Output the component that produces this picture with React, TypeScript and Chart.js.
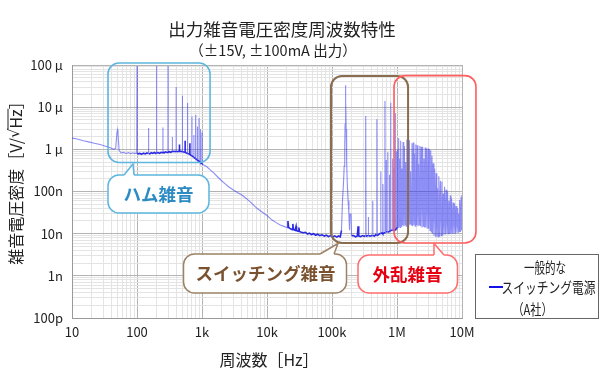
import React, { useEffect, useRef } from 'react';
import { Chart, registerables } from 'chart.js';

Chart.register(...registerables);

// ---- axis ticks ----
const xTickValues = [10, 100, 1e3, 1e4, 1e5, 1e6, 1e7];
const xTickLabels = ['10', '100', '1k', '10k', '100k', '1M', '10M'];
const yTickValues = [1e-10, 1e-9, 1e-8, 1e-7, 1e-6, 1e-5, 1e-4];
const yTickLabels = ['100p', '1n', '10n', '100n', '1 μ', '10 μ', '100 μ'];

// ---- data: [frequency Hz, noise density nV/√Hz] ----
const humNoise: [number, number][] = [
  [10, 1850], [12, 1750], [15, 1600], [18, 1500], [22, 1400], [27, 1300], [32, 1200], [38, 1100],
  [44, 1000], [47, 1050], [49, 2400], [50, 2900], [51, 2400], [53, 950], [57, 820], [62, 850],
  [68, 800], [74, 840], [80, 790], [86, 830], [92, 800], [97, 820], [99, 800], [100, 95000],
  [101, 800], [104, 780], [110, 800], [118, 770], [126, 810], [134, 780], [142, 820], [148, 800],
  [150, 3200], [152, 800], [158, 780], [166, 830], [175, 800], [185, 840], [195, 800], [199, 820],
  [200, 95000], [201, 820], [210, 840], [222, 800], [235, 850], [245, 830], [249, 850], [250, 3300],
  [251, 850], [262, 830], [275, 870], [290, 840], [299, 860], [300, 95000], [301, 860], [315, 880],
  [330, 850], [345, 890], [349, 870], [350, 1950], [351, 870], [370, 900], [390, 880], [399, 900],
  [400, 30000], [401, 900], [420, 880], [440, 910], [449, 890], [450, 1300], [451, 890], [475, 900],
  [499, 880], [500, 18600], [501, 880], [525, 860], [549, 850], [550, 1600], [551, 850], [575, 820],
  [599, 800], [600, 12500], [601, 800], [625, 780], [649, 760], [650, 1400], [651, 760], [675, 720],
  [699, 700], [700, 6000], [701, 700], [725, 670], [749, 650], [750, 2200], [751, 640], [775, 620],
  [799, 600], [800, 6500], [801, 600], [825, 570], [849, 560], [850, 3500], [851, 555], [875, 540],
  [899, 520], [900, 5500], [901, 520], [925, 500], [949, 490], [950, 3000], [951, 485], [975, 470],
  [999, 460], [1000, 2500], [1001, 455],
];

const slopeNoise: [number, number][] = [
  [1050, 430], [1100, 415], [1200, 380], [1350, 320], [1500, 280], [1700, 230], [2000, 180],
  [2300, 150], [2600, 128], [3000, 110], [3500, 95], [4000, 85], [4600, 72], [5300, 60],
  [6000, 50], [7000, 40], [8300, 33], [10000, 27], [12000, 21], [14000, 18], [16000, 16],
  [19000, 14.5],
];

const switchingNoise: [number, number][] = [
  [20500, 14], [21000, 20], [21500, 14], [23000, 13], [24500, 12.5], [25000, 17], [25500, 12.5],
  [27000, 12], [28000, 15], [28500, 11.8], [30000, 11.5], [31000, 14], [31500, 11.3], [33000, 11],
  [36000, 10.5], [39000, 10.8], [42000, 9.8], [45000, 10.3], [48000, 9.5], [52000, 10], [56000, 9.2],
  [60000, 9.7], [65000, 9], [70000, 9.4], [76000, 8.8], [82000, 9.2], [88000, 8.5], [95000, 9],
  [102000, 8.4], [110000, 8.9], [118000, 8.3], [126000, 8.8], [134000, 8.4], [140000, 12],
  [145000, 60], [150000, 150], [154000, 400], [157000, 1200], [159000, 4000], [161000, 15000],
  [162000, 33000], [163000, 15000], [165000, 3000], [168000, 500], [172000, 150], [177000, 60],
  [182000, 30], [186000, 12], [190000, 30], [196000, 30], [200000, 9], [215000, 9], [230000, 8.4],
  [245000, 8.8], [252000, 15], [258000, 8.8], [275000, 8.5], [295000, 9], [315000, 8.6],
  [326000, 9], [330000, 6200], [334000, 9], [345000, 8.8], [358000, 9], [362000, 25], [366000, 9],
  [385000, 8.7], [405000, 9], [418000, 8.8], [422000, 60], [426000, 9], [450000, 8.8],
  [470000, 9.5], [486000, 9], [490000, 5200], [494000, 9], [520000, 9.5], [545000, 10],
  [558000, 10], [562000, 300], [566000, 10], [590000, 10.5], [603000, 10], [607000, 150],
  [611000, 10], [640000, 10.5], [650000, 11], [653000, 14000], [656000, 11], [676000, 11],
  [680000, 560], [684000, 11], [715000, 11], [720000, 850], [725000, 11], [760000, 11],
  [765000, 250], [770000, 11], [795000, 12], [800000, 12700], [805000, 12], [850000, 12],
  [855000, 600], [860000, 12], [890000, 12], [895000, 350], [900000, 12], [935000, 12],
  [940000, 7200], [945000, 12], [970000, 13], [975000, 900], [980000, 13],
];

const disturbanceNoise: [number, number][] = [
  [1000000, 14], [1020000, 1000], [1040000, 14], [1060000, 1850], [1080000, 15], [1100000, 600],
  [1120000, 14], [1140000, 1600], [1165000, 15], [1190000, 350], [1215000, 16], [1240000, 1500],
  [1270000, 15], [1300000, 1200], [1330000, 16], [1360000, 500], [1390000, 15], [1420000, 1700],
  [1450000, 16], [1480000, 1100], [1515000, 15], [1550000, 1650], [1585000, 17], [1620000, 300],
  [1660000, 16], [1700000, 1400], [1740000, 15], [1780000, 1450], [1820000, 16], [1860000, 800],
  [1900000, 15], [1950000, 1300], [2000000, 16], [2050000, 1250], [2100000, 15], [2150000, 450],
  [2200000, 16], [2250000, 1200], [2300000, 15], [2360000, 1150], [2420000, 14], [2480000, 1150],
  [2540000, 15], [2600000, 600], [2660000, 14], [2720000, 1100], [2780000, 14], [2850000, 1050],
  [2920000, 13], [3000000, 1050], [3070000, 13], [3150000, 1000], [3220000, 12], [3300000, 950],
  [3370000, 11], [3450000, 700], [3520000, 10], [3600000, 470], [3700000, 9], [3800000, 350],
  [3900000, 8.5], [4000000, 270], [4100000, 8.5], [4200000, 120], [4300000, 8.5], [4400000, 230],
  [4520000, 8.5], [4650000, 180], [4780000, 9], [4900000, 170], [5020000, 9], [5150000, 90],
  [5280000, 9.5], [5400000, 130], [5550000, 9.5], [5700000, 110], [5850000, 10], [6000000, 100],
  [6150000, 10], [6300000, 60], [6450000, 10], [6600000, 80], [6750000, 10], [6900000, 68],
  [7100000, 10], [7300000, 55], [7500000, 10], [7700000, 52], [7900000, 10], [8100000, 45],
  [8350000, 10.5], [8600000, 40], [8800000, 10.5], [9000000, 30], [9150000, 11], [9300000, 63],
  [9500000, 11], [9700000, 75], [9850000, 12], [10000000, 83],
];

const FONT = '"Noto Sans CJK JP", "Noto Sans", sans-serif';
const LIGHT = 'rgba(50,50,240,0.55)';
const DARK = 'rgba(20,20,225,0.9)';

function logTicks(minExp: number, maxExp: number): number[] {
  const out: number[] = [];
  for (let e = minExp; e < maxExp; e++) for (let m = 1; m < 10; m++) out.push(m * Math.pow(10, e));
  out.push(Math.pow(10, maxExp));
  return out;
}
const isMajor = (v: number) => Math.abs(Math.log10(v) - Math.round(Math.log10(v))) < 1e-6;
function labelFor(v: number, vals: number[], labels: string[]) {
  for (let i = 0; i < vals.length; i++) if (Math.abs(Math.log10(v / vals[i])) < 1e-6) return labels[i];
  return '';
}

function isFloorSeg(c: any) {
  const a = c.p0.parsed, b = c.p1.parsed;
  const flat = Math.abs(Math.log10(a.y / b.y)) < 0.3;
  const zone = (a.x >= 99 && b.x <= 1001) || a.x >= 20000;
  return flat && zone;
}

function fitText(ctx: CanvasRenderingContext2D, text: string, cx: number, cy: number, w: number) {
  const m = ctx.measureText(text).width;
  const s = Math.min(1, w / m);
  ctx.save();
  ctx.translate(cx, cy);
  ctx.scale(s, 1);
  ctx.textAlign = 'center';
  ctx.textBaseline = 'middle';
  ctx.fillText(text, 0, 0);
  ctx.restore();
}

function callout(ctx: CanvasRenderingContext2D, box: number[], tail: number[][], stroke: string,
  text: string, color: string, tx: number, ty: number) {
  const [x, y, w, h] = box;
  ctx.save();
  ctx.lineWidth = 1.5;
  ctx.strokeStyle = stroke;
  ctx.fillStyle = '#fff';
  ctx.beginPath();
  ctx.roundRect(x, y, w, h, 11);
  ctx.fill();
  ctx.stroke();
  ctx.beginPath();
  ctx.moveTo(tail[0][0], tail[0][1] + 1.5);
  ctx.lineTo(tail[0][0], tail[0][1]);
  ctx.lineTo(tail[1][0], tail[1][1]);
  ctx.lineTo(tail[2][0], tail[2][1]);
  ctx.lineTo(tail[2][0], tail[2][1] + 1.5);
  ctx.closePath();
  ctx.fill();
  ctx.beginPath();
  ctx.moveTo(tail[0][0], tail[0][1]);
  ctx.lineTo(tail[1][0], tail[1][1]);
  ctx.lineTo(tail[2][0], tail[2][1]);
  ctx.stroke();
  ctx.fillStyle = color;
  ctx.font = `bold 17.5px ${FONT}`;
  ctx.textAlign = 'center';
  ctx.textBaseline = 'middle';
  ctx.fillText(text, tx, ty);
  ctx.restore();
}

const overlay = {
  id: 'overlay',
  afterDraw(chart: any) {
    const ctx: CanvasRenderingContext2D = chart.ctx;
    const xs = chart.scales.x, ys = chart.scales.y;
    const box = (f0: number, f1: number, v0: number, v1: number, color: string, lw: number) => {
      const x0 = xs.getPixelForValue(f0), x1 = xs.getPixelForValue(f1);
      const y0 = ys.getPixelForValue(v0), y1 = ys.getPixelForValue(v1);
      ctx.save();
      ctx.strokeStyle = color;
      ctx.lineWidth = lw;
      ctx.beginPath();
      ctx.roundRect(x0, y0, x1 - x0, y1 - y0, 11);
      ctx.stroke();
      ctx.restore();
    };
    box(35.8, 1330, 1.115e-4, 4.87e-7, '#5db6de', 1.6);
    box(96.5e3, 1.48e6, 5.5e-5, 6.0e-9, '#8a6c4e', 2);
    box(9.0e5, 1.64e7, 5.6e-5, 6.0e-9, '#ff5c5c', 1.6);

    callout(ctx, [108, 175, 101, 38], [[124, 175], [133, 164], [134, 175]], '#5db6de', 'ハム雑音', '#2b8bc2', 158.5, 194.5);
    callout(ctx, [183.5, 254, 163, 39], [[320, 254], [338, 243.5], [334, 254]], '#9c8266', 'スイッチング雑音', '#7a5230', 265.5, 273.5);
    callout(ctx, [358, 255, 99.5, 38], [[434, 255], [434, 243.5], [444, 255]], '#ff6e6e', '外乱雑音', '#e60012', 407.5, 274);

    // titles
    ctx.save();
    ctx.fillStyle = '#222';
    ctx.textAlign = 'center';
    ctx.textBaseline = 'middle';
    ctx.font = `17.5px ${FONT}`;
    ctx.fillText('出力雑音電圧密度周波数特性', 282, 29);
    ctx.font = `14.5px ${FONT}`;
    ctx.fillText('（±15V, ±100mA 出力）', 273, 50.5);
    // x axis title
    ctx.font = `16px ${FONT}`;
    ctx.fillText('周波数［Hz］', 269, 360);
    ctx.restore();

    // y axis title, drawn in pieces so the radical sign uses a Latin font
    ctx.save();
    ctx.fillStyle = '#222';
    ctx.strokeStyle = '#222';
    ctx.translate(15.5, 179);
    ctx.rotate(-Math.PI / 2);
    ctx.textBaseline = 'middle';
    ctx.textAlign = 'left';
    const cjk = `16px ${FONT}`;
    const lat = `15px "DejaVu Sans", ${FONT}`;
    const parts: [string, string][] = [['雑音電圧密度［V/', cjk], ['√', lat], ['Hz］', cjk]];
    let total = 0;
    const widths = parts.map(([t, f]) => { ctx.font = f; const w = ctx.measureText(t).width; total += w; return w; });
    let cx = -total / 2;
    parts.forEach(([t, f], i) => { ctx.font = f; ctx.fillText(t, cx, 0); cx += widths[i]; });
    ctx.font = cjk;
    const hzW = ctx.measureText('Hz').width;
    const hzStart = -total / 2 + widths[0] + widths[1];
    ctx.lineWidth = 1;
    ctx.beginPath();
    ctx.moveTo(hzStart - 1, -7.5);
    ctx.lineTo(hzStart + hzW + 0.5, -7.5);
    ctx.stroke();
    ctx.restore();

    // legend
    ctx.save();
    ctx.fillStyle = '#fff';
    ctx.fillRect(475, 254, 124, 64);
    ctx.strokeStyle = '#666';
    ctx.lineWidth = 1;
    ctx.strokeRect(475.5, 254.5, 123, 64);
    ctx.fillStyle = '#222';
    ctx.font = `15px ${FONT}`;
    fitText(ctx, '一般的な', 545, 267.5, 42);
    fitText(ctx, 'スイッチング電源', 548.5, 287, 94);
    fitText(ctx, '（A社）', 532.5, 309.5, 40);
    ctx.strokeStyle = '#1212e6';
    ctx.lineWidth = 2;
    ctx.beginPath();
    ctx.moveTo(489, 287);
    ctx.lineTo(503, 287);
    ctx.stroke();
    ctx.restore();
  },
};

export default function App() {
  const ref = useRef<HTMLCanvasElement>(null);
  useEffect(() => {
    const canvas = ref.current;
    if (!canvas) return;
    const all = [...humNoise, ...slopeNoise, ...switchingNoise, ...disturbanceNoise];
    const points = all.map(([f, n]) => ({ x: f, y: n * 1e-9 }));
    const gridColor = (c: any) => (c.tick && isMajor(c.tick.value) ? '#b4b4b4' : '#e4e4e4');
    const chart = new Chart(canvas, {
      type: 'line',
      data: {
        datasets: [{
          label: 'スイッチング電源（A社）',
          data: points as any,
          borderColor: LIGHT,
          borderWidth: 1.1,
          pointRadius: 0,
          tension: 0,
          segment: {
            borderColor: (c: any) => (isFloorSeg(c) ? DARK : LIGHT),
            borderWidth: (c: any) => (isFloorSeg(c) ? 1.6 : 1.1),
          },
        }],
      },
      options: {
        responsive: false,
        animation: false,
        devicePixelRatio: 1,
        layout: { padding: { top: 65, right: 138, left: 0, bottom: 0 } },
        plugins: { legend: { display: false }, title: { display: false }, tooltip: { enabled: false } },
        scales: {
          x: {
            type: 'logarithmic',
            min: 10,
            max: 1e7,
            afterBuildTicks: (s: any) => { s.ticks = logTicks(1, 7).map((v) => ({ value: v })); },
            afterFit: (s: any) => { s.height = 56; },
            grid: { color: gridColor, drawTicks: false, lineWidth: 1 },
            border: { display: true, color: '#999' },
            ticks: {
              autoSkip: false, maxRotation: 0, minRotation: 0, padding: 6, color: '#222',
              font: { family: FONT, size: 13 },
              callback: (v: any) => labelFor(Number(v), xTickValues, xTickLabels),
            },
          },
          y: {
            type: 'logarithmic',
            min: 1e-10,
            max: 1e-4,
            afterBuildTicks: (s: any) => { s.ticks = logTicks(-10, -4).map((v) => ({ value: v })); },
            afterFit: (s: any) => { s.width = 72; },
            grid: { color: gridColor, drawTicks: false, lineWidth: 1 },
            border: { display: true, color: '#999' },
            ticks: {
              autoSkip: false, padding: 9, color: '#222',
              font: { family: FONT, size: 13 },
              callback: (v: any) => labelFor(Number(v), yTickValues, yTickLabels),
            },
          },
        },
      } as any,
      plugins: [overlay],
    });
    return () => chart.destroy();
  }, []);
  return (
    <div style={{ position: 'absolute', left: 0, top: 0, width: 600, height: 374, background: '#fff' }}>
      <canvas ref={ref} width={600} height={374} style={{ display: 'block' }} />
    </div>
  );
}
